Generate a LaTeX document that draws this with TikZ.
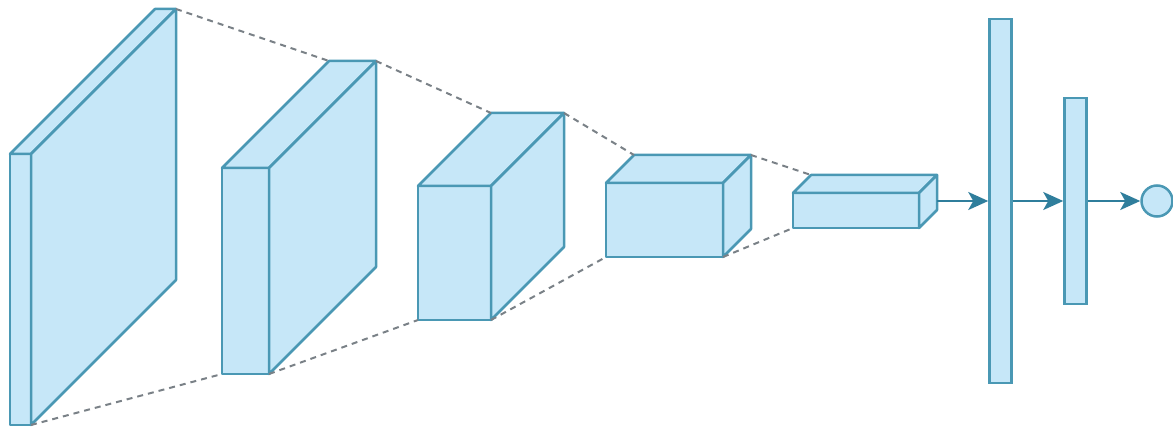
\documentclass[tikz,border=0pt]{standalone}
\usetikzlibrary{arrows.meta}
\definecolor{boxfill}{HTML}{C6E7F8}
\definecolor{boxline}{HTML}{4A98B4}
\definecolor{arrowcol}{HTML}{2F7E9C}
\definecolor{dashcol}{HTML}{7A8187}
\tikzset{
  face/.style={fill=boxfill, draw=boxline, line width=2.5pt, line join=round},
  guide/.style={draw=dashcol, dash pattern=on 6pt off 5pt, line width=2pt},
  bar/.style={rectangle, fill=boxfill, draw=boxline, line width=2.5pt, minimum width=22pt, inner sep=0pt},
  outnode/.style={circle, fill=boxfill, draw=boxline, line width=2.5pt, minimum size=31pt, inner sep=0pt},
  flow/.style={draw=arrowcol, line width=2.3pt, -{Stealth[length=20pt, width=18pt, inset=5pt]}}
}
% #1 name, #2 x1, #3 y1, #4 x2, #5 y2, #6 depth
\newcommand{\cnnbox}[6]{%
  \coordinate (#1-ftl) at (#2,#3);
  \coordinate (#1-ftr) at (#4,#3);
  \coordinate (#1-fbl) at (#2,#5);
  \coordinate (#1-fbr) at (#4,#5);
  \coordinate (#1-btl) at (#2+#6,#3-#6);
  \coordinate (#1-btr) at (#4+#6,#3-#6);
  \coordinate (#1-bbr) at (#4+#6,#5-#6);
  \path[face] (#1-ftl) rectangle (#1-fbr);
  \path[face] (#1-ftl) -- (#1-btl) -- (#1-btr) -- (#1-ftr) -- cycle;
  \path[face] (#1-ftr) -- (#1-btr) -- (#1-bbr) -- (#1-fbr) -- cycle;
}
\begin{document}
\begin{tikzpicture}[x=1pt, y=-1pt]
\useasboundingbox (0,0) rectangle (1173,427);
\cnnbox{b1}{10}{154}{31}{425}{145}
\cnnbox{b2}{222}{168}{269}{374}{107}
\cnnbox{b3}{418}{186}{491}{320}{73}
\cnnbox{b4}{606}{183}{723}{257}{28}
\cnnbox{b5}{793}{193}{919}{228}{18}
% guide lines
\draw[guide] (b1-btr) -- (b2-btl);
\draw[guide] (b1-fbr) -- (b2-fbl);
\draw[guide] (b2-btr) -- (b3-btl);
\draw[guide] (b2-fbr) -- (b3-fbl);
\draw[guide] (b3-btr) -- (b4-btl);
\draw[guide] (b3-fbr) -- (b4-fbl);
\draw[guide] (b4-btr) -- (b5-btl);
\draw[guide] (b4-fbr) -- (b5-fbl);
% dense layers
\node[bar, minimum height=364pt] (fc1) at (1000.5,201) {};
\node[bar, minimum height=206pt] (fc2) at (1075.5,201) {};
\node[outnode] (out) at (1157,201) {};
\coordinate (b5-out) at (937,201);
\draw[flow] (b5-out) -- (fc1.west);
\draw[flow] (fc1.east) -- (fc2.west);
\draw[flow] (fc2.east) -- (out.west);
\end{tikzpicture}
\end{document}
